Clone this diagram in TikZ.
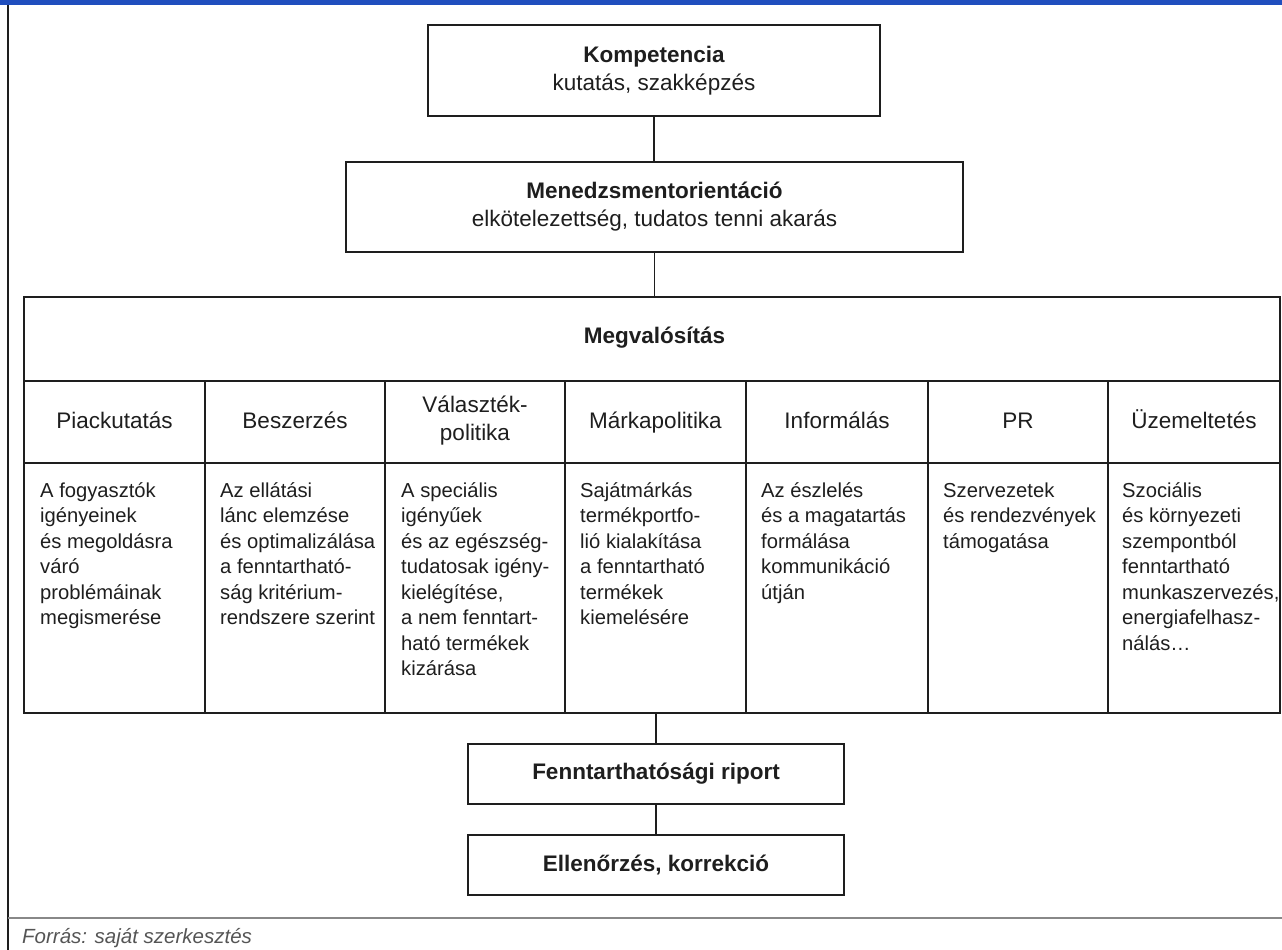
\documentclass[tikz,border=0pt]{standalone}
\usepackage{fontspec}
\setmainfont{Liberation Sans}
\definecolor{barblue}{RGB}{32,78,190}
\definecolor{ink}{RGB}{30,30,30}
\definecolor{srcgray}{RGB}{85,85,85}
\tikzset{
  box/.style={draw=ink, line width=1.8pt, rectangle, inner sep=0pt},
  rule/.style={draw=ink, line width=1.8pt},
  conn/.style={draw=ink, line width=1.6pt},
  headtxt/.style={text=ink, align=center, inner sep=0pt, font=\fontsize{22.5}{28}\selectfont},
  bodytxt/.style={text=ink, align=left, inner sep=0pt, anchor=north west, font=\fontsize{20.2}{25.5}\selectfont},
}
\begin{document}
\begin{tikzpicture}[x=1pt,y=-1pt]
\useasboundingbox (0,0) rectangle (1282,950);
% frame
\fill[barblue] (0,0) rectangle (1282,5.5);
\draw[ink, line width=2pt] (7.5,5) -- (7.5,950);
\draw[srcgray!70, line width=1.2pt] (8,918) -- (1282,918);

% top boxes
\node[box, minimum width=452pt, minimum height=91pt, headtxt] (komp) at (654,70.5)
  {\textbf{Kompetencia}\\kutatás, szakképzés};
\node[box, minimum width=617pt, minimum height=90pt, headtxt] (men) at (654.5,207)
  {\textbf{Menedzsmentorientáció}\\elkötelezettség, tudatos tenni akarás};

% table
\node[box, minimum width=1256pt, minimum height=416pt] (tab) at (652,505) {};
\node[headtxt] (megval) at (654.5,338) {\textbf{Megvalósítás}};
\draw[rule] (24,381) -- (1280,381);
\draw[rule] (24,463) -- (1280,463);
\foreach \x in {205,385,565,746,928,1108} {
  \draw[rule] (\x,381) -- (\x,713);
}

% column headers
\node[headtxt, anchor=base] (h1) at (114.5,428) {Piackutatás};
\node[headtxt, anchor=base] (h2) at (295,428) {Beszerzés};
\node[headtxt] (h3) at (475,421) {Választék-\\politika};
\node[headtxt, anchor=base] (h4) at (655.5,428) {Márkapolitika};
\node[headtxt, anchor=base] (h5) at (837,428) {Informálás};
\node[headtxt, anchor=base] (h6) at (1018,428) {PR};
\node[headtxt, anchor=base] (h7) at (1194,428) {Üzemeltetés};

% column bodies
\node[bodytxt] (b1) at (40,479.2) {\strut A fogyasztók\\igényeinek\\és megoldásra\\váró\\problémáinak\\megismerése};
\node[bodytxt] (b2) at (220,479.2) {\strut Az ellátási\\lánc elemzése\\és optimalizálása\\a fenntartható-\\ság kritérium-\\rendszere szerint};
\node[bodytxt] (b3) at (401,479.2) {\strut A speciális\\igényűek\\és az egészség-\\tudatosak igény-\\kielégítése,\\a nem fenntart-\\ható termékek\\kizárása};
\node[bodytxt] (b4) at (580,479.2) {\strut Sajátmárkás\\termékportfo-\\lió kialakítása\\a fenntartható\\termékek\\kiemelésére};
\node[bodytxt] (b5) at (761,479.2) {\strut Az észlelés\\és a magatartás\\formálása\\kommunikáció\\útján};
\node[bodytxt] (b6) at (943,479.2) {\strut Szervezetek\\és rendezvények\\támogatása};
\node[bodytxt] (b7) at (1122,479.2) {\strut Szociális\\és környezeti\\szempontból\\fenntartható\\munkaszervezés,\\energiafelhasz-\\nálás\ldots};

% bottom boxes
\node[box, minimum width=376pt, minimum height=60pt, headtxt] (fenn) at (656,774)
  {\textbf{Fenntarthatósági riport}};
\node[box, minimum width=376pt, minimum height=60pt, headtxt] (ell) at (656,865)
  {\textbf{Ellenőrzés, korrekció}};

% connectors
\draw[conn] (komp.south) -- (komp.south |- men.north);
\draw[conn] (men.south) -- (men.south |- tab.north);
\draw[conn] (fenn.north) -- (fenn.north |- tab.south);
\draw[conn] (fenn.south) -- (ell.north);

% source
\node[anchor=base west, inner sep=0pt, text=srcgray, font=\fontsize{20.5}{24}\selectfont\itshape] (src) at (22,943) {Forrás: saját szerkesztés};
\end{tikzpicture}
\end{document}
